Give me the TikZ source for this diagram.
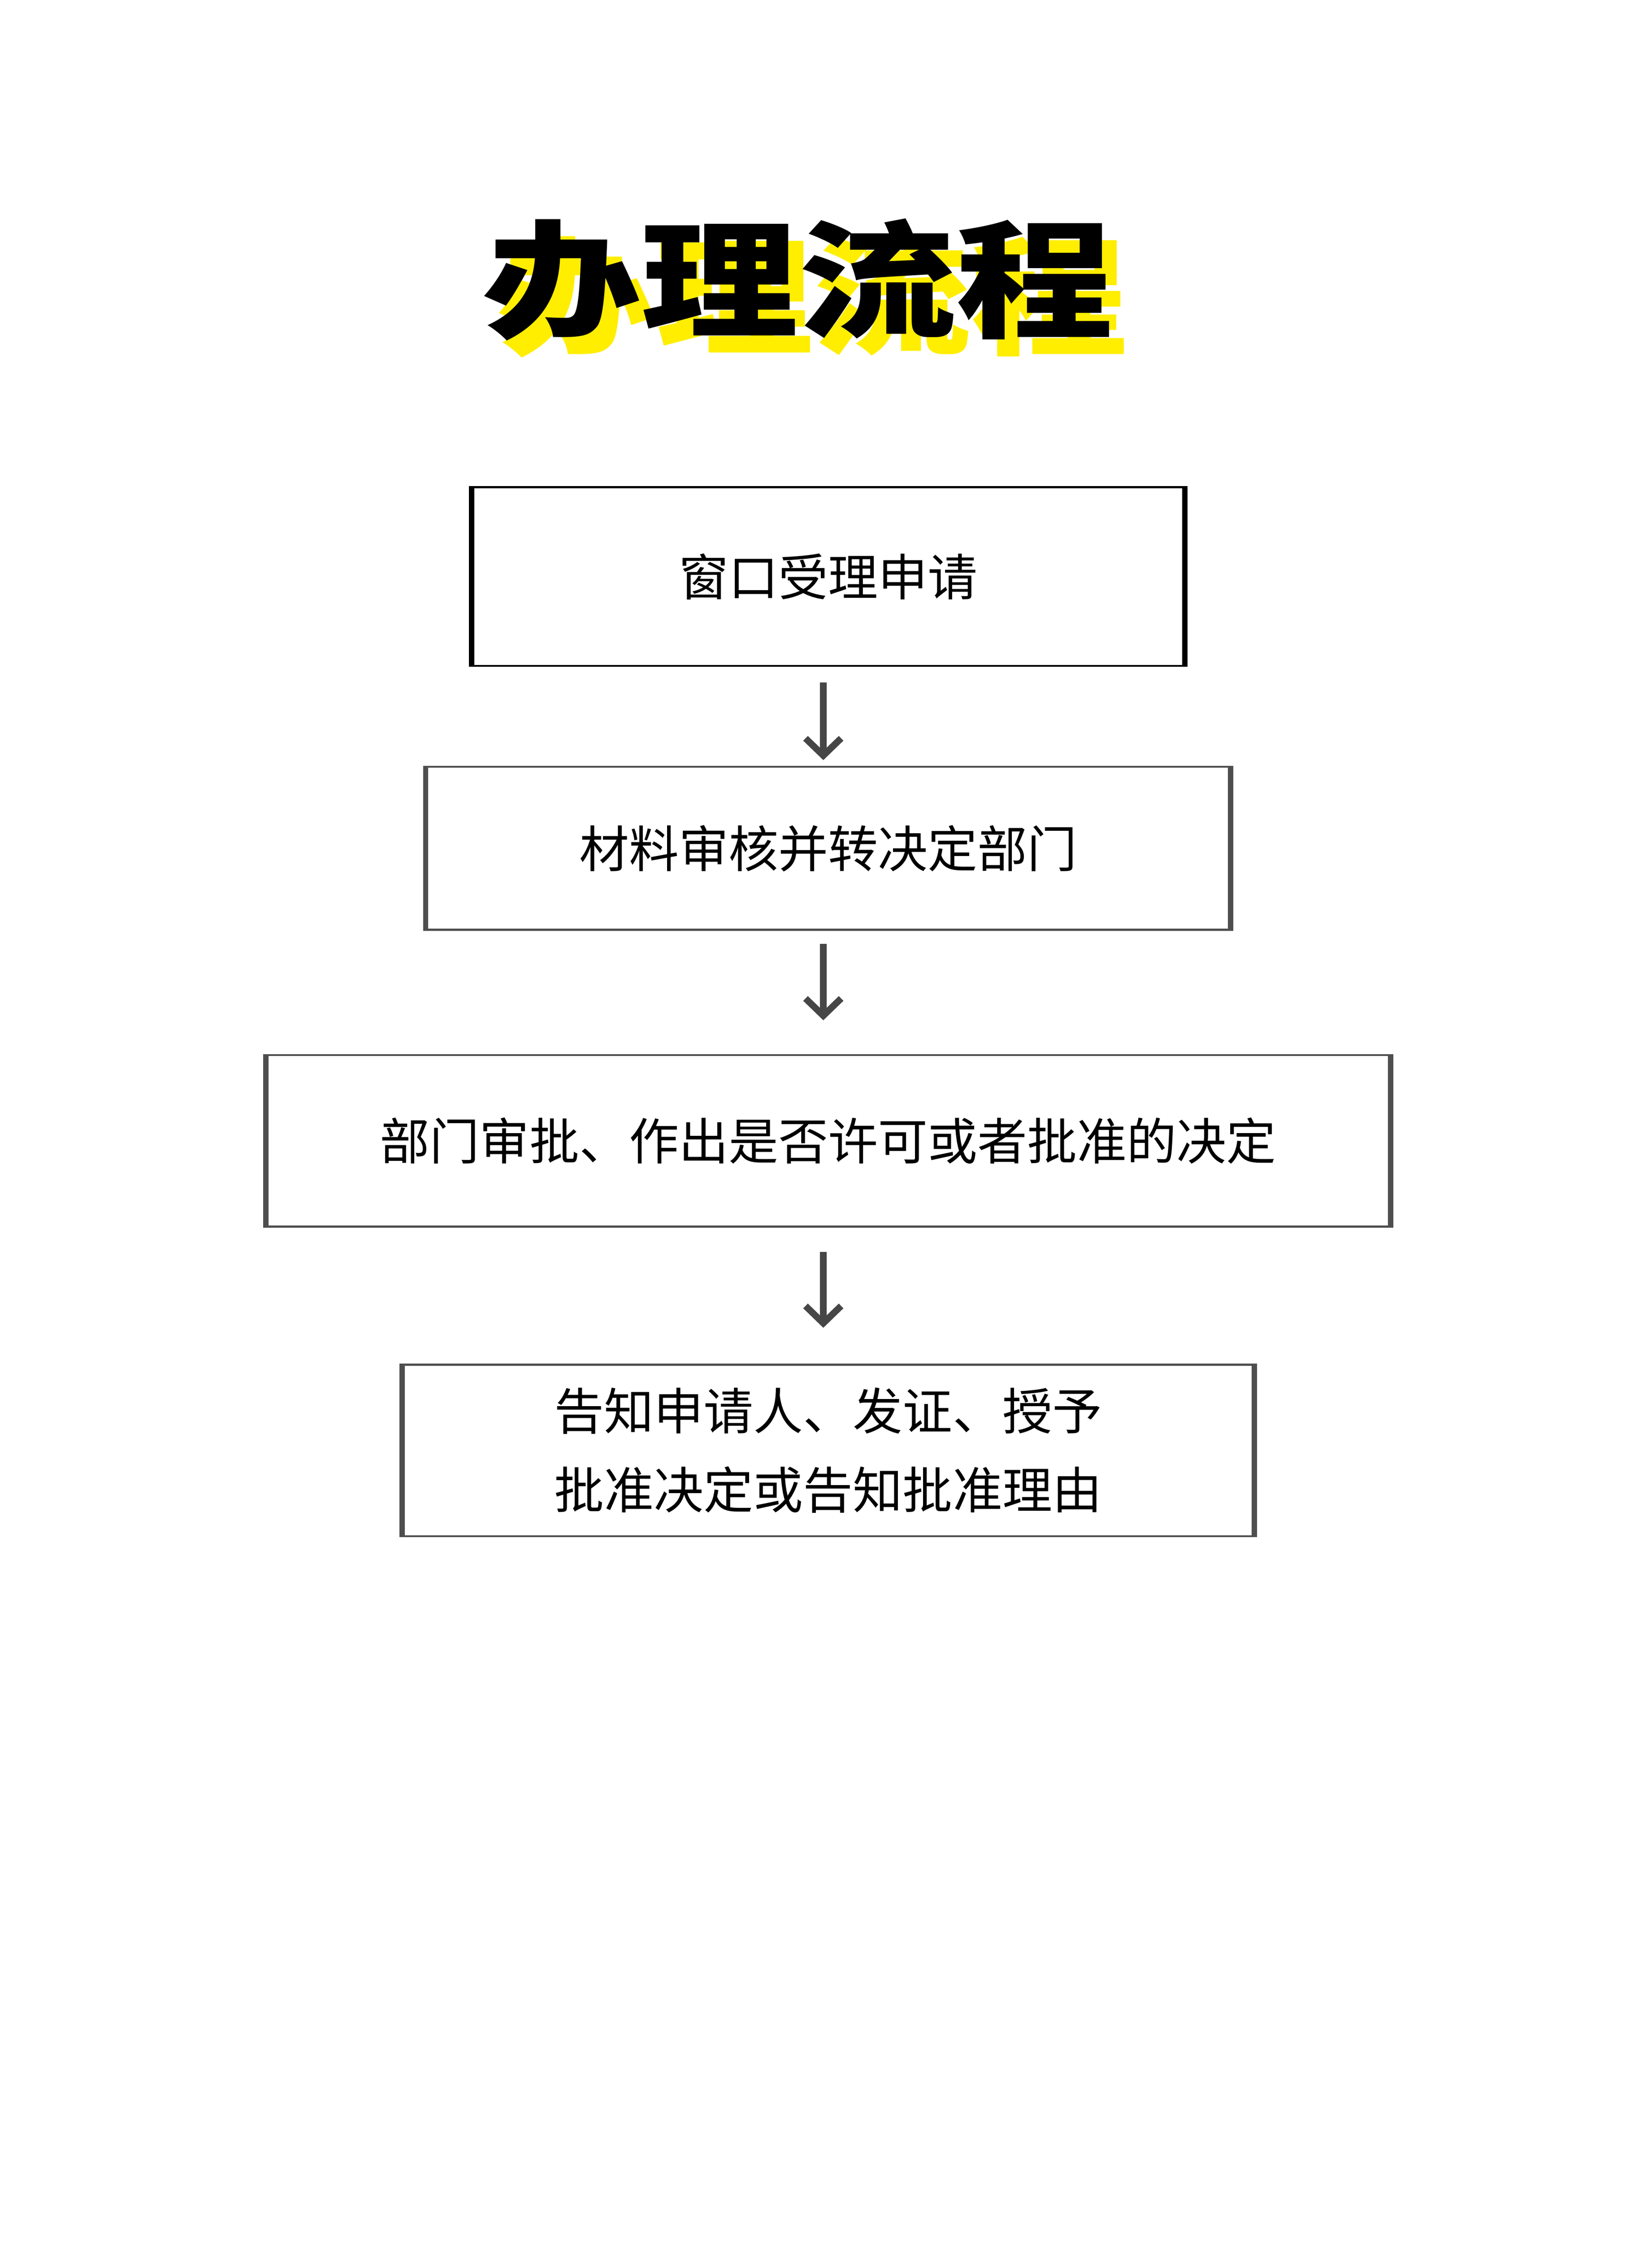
\documentclass[tikz,border=0pt]{standalone}
\usepackage{fontspec}
\newfontfamily\cjk{Noto Sans CJK SC}
\usetikzlibrary{positioning, arrows.meta}
\definecolor{flowgray}{RGB}{78,78,78}
\definecolor{arrowgray}{RGB}{70,70,70}
\definecolor{shadowyellow}{RGB}{255,238,0}

\begin{document}
\begin{tikzpicture}[x=0.25mm, y=-0.25mm, node distance=17.25mm,
		every node/.style={font=\cjk\fontsize{24.7}{39}\selectfont, align=center, inner sep=0pt},
		flowbox/.style={draw=flowgray, line width=0.35mm, text=black},
		flowarrow/.style={arrowgray, line width=1.15mm, -{Straight Barb[length=3mm, width=6.2mm]}},
		titletext/.style={font=\cjk\bfseries\fontsize{63}{63}\selectfont}]
		\useasboundingbox (0,0) rectangle (1152,1563.3);
		\node[titletext, text=shadowyellow] (shadow) at (567.3,207) {\scalebox{1.24}[1]{办理流程}};
		\node[titletext, text=black] (title) at ([xshift=-2.6mm, yshift=3mm]shadow.center) {\scalebox{1.24}[1]{办理流程}};
		\node[flowbox, draw=black, minimum width=124.9mm, minimum height=31.15mm] (box1) at (577.6,402) {窗口受理申请};
		\node[flowbox, minimum width=140.9mm, minimum height=28.4mm, below=of box1] (box2) {材料审核并转决定部门};
		\node[flowbox, minimum width=196.65mm, minimum height=29.9mm, below=21.5mm of box2] (box3) {部门审批、作出是否许可或者批准的决定};
		\node[flowbox, minimum width=149.15mm, minimum height=29.9mm, below=23.7mm of box3] (box4) {告知申请人、发证、授予\\批准决定或告知批准理由};
		\foreach \b/\c in {box1/black, box2/flowgray, box3/flowgray, box4/flowgray}
			\draw[\c, line width=0.9mm] ([xshift=0.45mm]\b.north west) -- ([xshift=0.45mm]\b.south west)
				([xshift=-0.45mm]\b.north east) -- ([xshift=-0.45mm]\b.south east);
		\foreach \from/\to/\a/\b in {box1/box2/2.75/1, box2/box3/2.25/5.9, box3/box4/4.25/6.25}
			\draw[flowarrow] ([xshift=-0.85mm, yshift=-\a mm]\from.south) -- ([xshift=-0.85mm, yshift=\b mm]\to.north);
	\end{tikzpicture}
\end{document}
